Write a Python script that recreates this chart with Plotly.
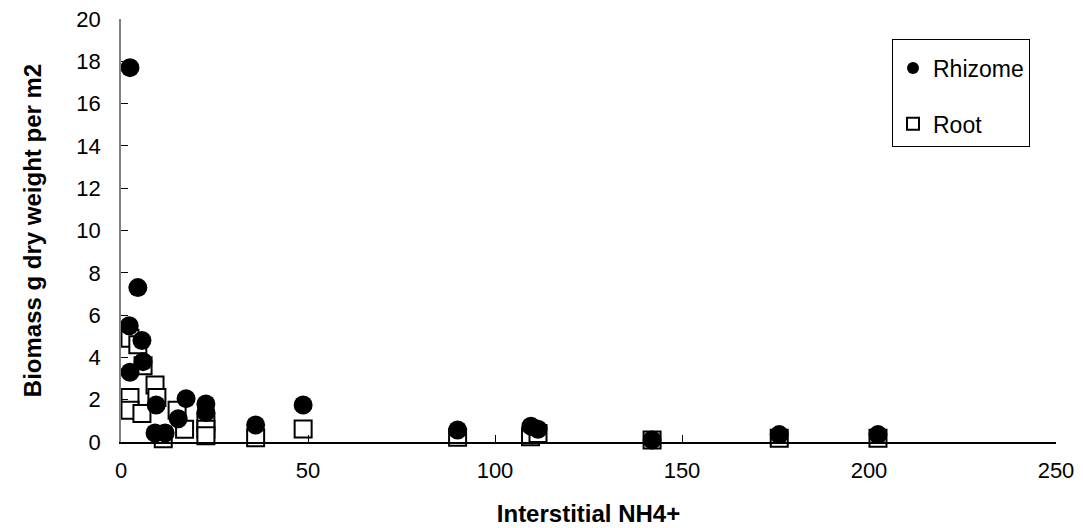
import plotly.graph_objects as go

rhizome_x = [2.4, 4.5, 2.2, 5.6, 5.9, 2.4, 17.4, 9.4, 22.7, 22.7, 15.3, 9.1, 11.8, 36, 48.7, 90, 109.6, 111.5, 142, 176, 202.4]
rhizome_y = [17.7, 7.3, 5.5, 4.8, 3.8, 3.3, 2.05, 1.75, 1.8, 1.4, 1.1, 0.43, 0.43, 0.8, 1.75, 0.57, 0.75, 0.6, 0.1, 0.35, 0.35]

root_x = [2.4, 4.5, 5.9, 9.1, 9.6, 2.4, 2.4, 5.6, 15, 17, 11.3, 22.7, 22.7, 22.7, 36, 48.7, 90, 109.5, 111.5, 142, 176, 202.4]
root_y = [4.9, 4.6, 3.6, 2.7, 2.1, 2.1, 1.5, 1.35, 1.5, 0.6, 0.15, 0.95, 0.6, 0.3, 0.2, 0.62, 0.22, 0.25, 0.4, 0.1, 0.18, 0.18]

x_ticks = [0, 50, 100, 150, 200, 250]
y_ticks = [0, 2, 4, 6, 8, 10, 12, 14, 16, 18, 20]

FONT = "Liberation Sans, Arial, sans-serif"

fig = go.Figure()
fig.add_trace(go.Scatter(
    x=root_x, y=root_y, mode="markers", name="Root",
    legendgroup="root", legendrank=2,
    marker=dict(symbol="square", size=17, color="white",
                line=dict(color="black", width=2)),
    cliponaxis=False,
))
fig.add_trace(go.Scatter(
    x=rhizome_x, y=rhizome_y, mode="markers", name="Rhizome",
    legendgroup="rhizome", legendrank=1,
    marker=dict(symbol="circle", size=19, color="black",
                line=dict(color="black", width=0)),
    cliponaxis=False,
))

# page body has an 8px default margin, so the figure is 8px smaller than the window
fig.update_layout(
    width=1075, height=520,
    margin=dict(l=113, r=27, t=11, b=86, autoexpand=False),
    paper_bgcolor="white", plot_bgcolor="white",
    font=dict(family=FONT, color="black", size=22),
    showlegend=True,
    legend=dict(
        x=0.8246, y=0.9527, xanchor="left", yanchor="top",
        bgcolor="white", bordercolor="black", borderwidth=1,
        font=dict(family=FONT, size=23, color="black"),
        itemsizing="constant", traceorder="grouped",
        tracegroupgap=23, itemwidth=30,
        title=dict(text=" ", font=dict(family=FONT, size=5)),
    ),
    xaxis=dict(
        range=[0, 250], tickvals=x_ticks, ticktext=[str(v) for v in x_ticks],
        showgrid=False, zeroline=False, automargin=False,
        showline=True, linecolor="black", linewidth=1.5,
        ticks="inside", ticklen=7, tickcolor="black", tickwidth=1,
        tickfont=dict(family=FONT, size=22),
        ticklabelstandoff=8, ticklabeloverflow="allow",
        title=dict(text="<b>Interstitial NH4+</b>", font=dict(family=FONT, size=24), standoff=23),
    ),
    yaxis=dict(
        range=[0, 20], tickvals=y_ticks, ticktext=[str(v) for v in y_ticks],
        showgrid=False, zeroline=False, automargin=False,
        showline=True, linecolor="#808080", linewidth=1.5,
        ticks="inside", ticklen=7, tickcolor="black", tickwidth=1,
        tickfont=dict(family=FONT, size=22),
        ticklabelstandoff=14, ticklabeloverflow="allow",
        title=dict(text="<b>Biomass g dry weight per m2</b>", font=dict(family=FONT, size=24), standoff=28),
    ),
)

fig.write_html("out.html")
